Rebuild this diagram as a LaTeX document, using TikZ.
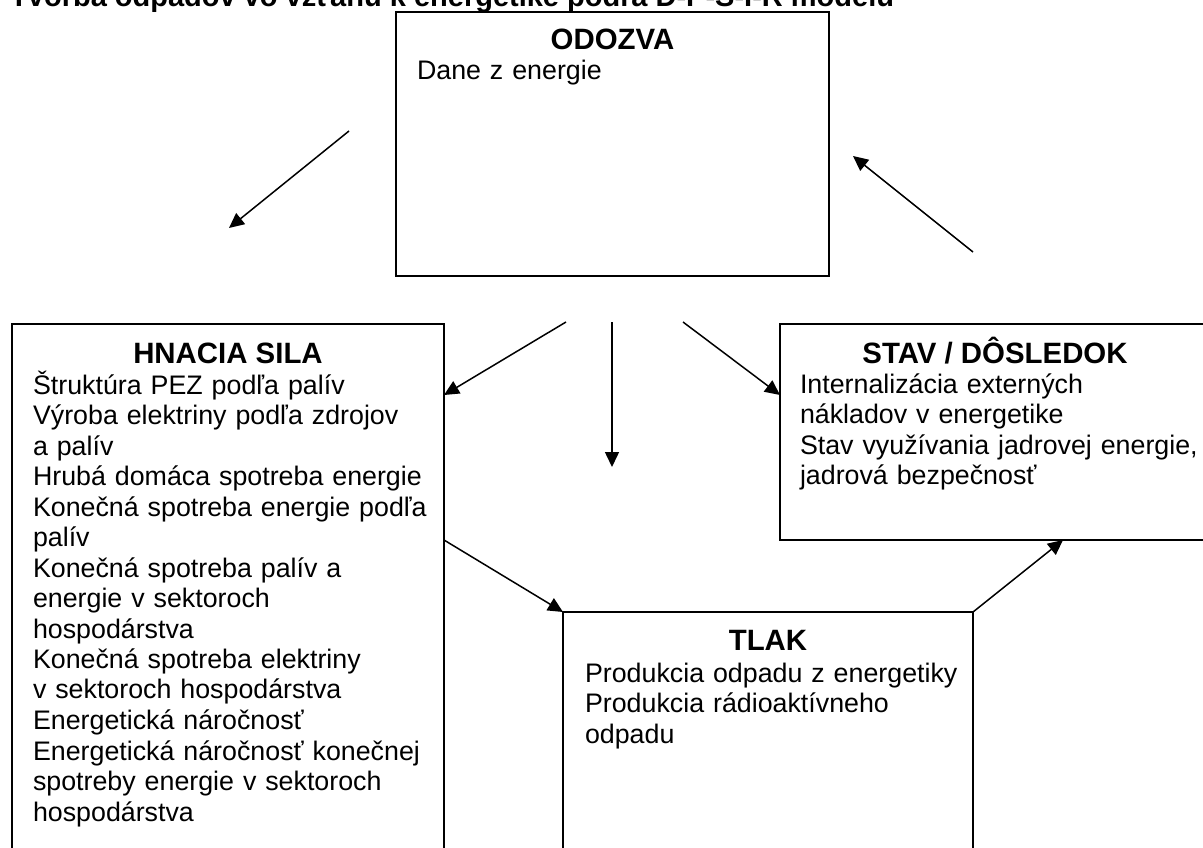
\documentclass[tikz,border=0pt]{standalone}
\usepackage{fontspec}
\setmainfont{Liberation Sans}
\usetikzlibrary{arrows.meta,calc}
\tikzset{
  box/.style={draw, line width=2pt, inner sep=0pt, outer sep=0pt, anchor=north west},
  head/.style={font=\fontsize{29.4}{34}\selectfont\bfseries, anchor=base, inner sep=0pt, outer sep=0pt},
  body/.style={font=\fontsize{26.8}{30.5}\selectfont, anchor=base west, inner sep=0pt, outer sep=0pt, align=left, text width=430pt},
  arr/.style={line width=1.5pt, -{Triangle[length=15pt,width=14pt]}}
}
\begin{document}
\begin{tikzpicture}[x=1pt,y=-1pt]
\useasboundingbox (0,0) rectangle (1203,848);
\fill[white] (0,0) rectangle (1203,848);
\clip (0,0) rectangle (1203,848);

% title
\node[font=\fontsize{29}{34}\selectfont\bfseries, anchor=base west, inner sep=0pt] (title) at (10,7) {Tvorba odpadov vo vzťahu k energetike podľa D-P-S-I-R modelu};

% boxes
\node[box, minimum width=433pt, minimum height=264pt] (odozva) at (396,12) {};
\node[box, minimum width=432pt, minimum height=560pt] (hnacia) at (12,324) {};
\node[box, minimum width=435pt, minimum height=216pt] (stav) at (780,324) {};
\node[box, minimum width=410pt, minimum height=300pt] (tlak) at (563,612) {};

% texts
\node[head] (odozvaH) at (612.5,50) {ODOZVA};
\node[body] (odozvaB) at (417,80) {Dane z energie};

\node[head] (hnaciaH) at (228,363) {HNACIA SILA};
\node[body] (hnaciaB) at (33,394) {Štruktúra PEZ podľa palív\\
Výroba elektriny podľa zdrojov\\
a palív\\
Hrubá domáca spotreba energie\\
Konečná spotreba energie podľa\\
palív\\
Konečná spotreba palív a\\
energie v sektoroch\\
hospodárstva\\
Konečná spotreba elektriny\\
v sektoroch hospodárstva\\
Energetická náročnosť\\
Energetická náročnosť konečnej\\
spotreby energie v sektoroch\\
hospodárstva};

\node[head] (stavH) at (995,363) {STAV / DÔSLEDOK};
\node[body] (stavB) at (800,393) {Internalizácia externých\\
nákladov v energetike\\
Stav využívania jadrovej energie,\\
jadrová bezpečnosť};

\node[head] (tlakH) at (768,650) {TLAK};
\node[body] (tlakB) at (585,682) {Produkcia odpadu z energetiky\\
Produkcia rádioaktívneho\\
odpadu};

% free arrow ends
\coordinate (l1s) at (349,131);
\coordinate (l1e) at (229,228);
\coordinate (r1s) at (973,252);
\coordinate (r1e) at (853,156);
\coordinate (d1s) at (566,322);
\coordinate (d2s) at (612,322);
\coordinate (d2e) at (612,467);
\coordinate (d3s) at (683,322);

% arrows
\draw[arr] (l1s) -- (l1e);
\draw[arr] (r1s) -- (r1e);
\draw[arr] (d1s) -- ($(hnacia.north east)+(0,71)$);
\draw[arr] (d2s) -- (d2e);
\draw[arr] (d3s) -- ($(stav.north west)+(0,71)$);
\draw[arr] ($(hnacia.north east)+(0,216)$) -- (tlak.north west);
\draw[arr] (tlak.north east) -- ($(stav.south west)+(283,0)$);
\end{tikzpicture}
\end{document}
